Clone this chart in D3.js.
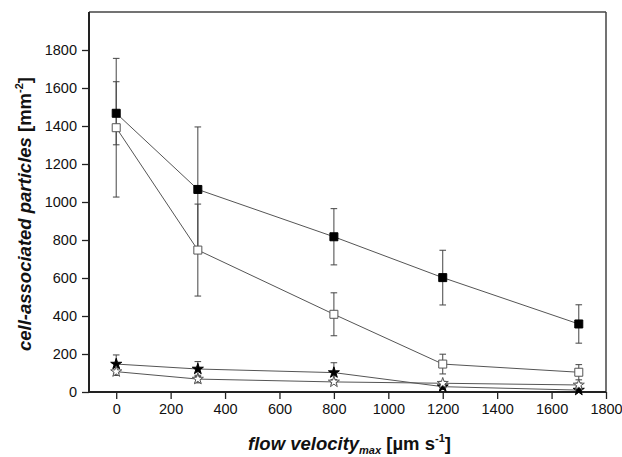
<!DOCTYPE html>
<html>
<head>
<meta charset="utf-8">
<script src="https://cdn.jsdelivr.net/npm/d3@7"></script>
<style>
  html, body { margin: 0; padding: 0; background: #fff; }
  svg { display: block; font-family: "Liberation Sans", Arial, sans-serif; }
</style>
</head>
<body>
<svg id="chart" width="622" height="457"></svg>
<script>
// ---- data ----
const velocity = [0, 300, 800, 1200, 1700];
const filledSquare = [1467, 1066, 817, 602, 358];
const filledSquareErr = [166, 329, 148, 144, 101];
const openSquare = [1391, 747, 409, 147, 104];
const openSquareErr = [365, 242, 113, 52, 40];
const filledStar = [147, 121, 102, 28, 10];
const filledStarErr = [48, 39, 52, 15, 10];
const openStar = [107, 68, 53, 46, 37];
const openStarErr = [20, 20, 12, 10, 10];
const xTicks = [0, 200, 400, 600, 800, 1000, 1200, 1400, 1600, 1800];
const yTicks = [0, 200, 400, 600, 800, 1000, 1200, 1400, 1600, 1800];

const seriesList = [
  { values: filledStar, err: filledStarErr, shape: d3.symbolStar, size: 38, fill: "#000", stroke: "#000" },
  { values: openStar, err: openStarErr, shape: d3.symbolStar, size: 38, fill: "#fff", stroke: "#555" },
  { values: openSquare, err: openSquareErr, shape: d3.symbolSquare, size: 64, fill: "#fff", stroke: "#555" },
  { values: filledSquare, err: filledSquareErr, shape: d3.symbolSquare, size: 64, fill: "#000", stroke: "#000" }
];

const svg = d3.select("#chart");
const L = 89, R = 606, T = 12, B = 392;
const x = d3.scaleLinear().domain([-100, 1800]).range([L, R]);
const y = d3.scaleLinear().domain([0, 2000]).range([B, T]);

// frame (top & right)
svg.append("line").attr("x1", L).attr("x2", R).attr("y1", T).attr("y2", T)
  .attr("stroke", "#444").attr("stroke-width", 1.5);
svg.append("line").attr("x1", R).attr("x2", R).attr("y1", T).attr("y2", B)
  .attr("stroke", "#444").attr("stroke-width", 1.5);

// axes
const fmt = d3.format("d");
const xAxis = svg.append("g").attr("transform", `translate(0,${B})`)
  .call(d3.axisBottom(x).tickValues(xTicks).tickFormat(fmt).tickSize(7).tickPadding(5).tickSizeOuter(0));
const yAxis = svg.append("g").attr("transform", `translate(${L},0)`)
  .call(d3.axisLeft(y).tickValues(yTicks).tickFormat(fmt).tickSize(7).tickPadding(5).tickSizeOuter(0));
[xAxis, yAxis].forEach(a => {
  a.select(".domain").attr("stroke", "#222").attr("stroke-width", 2);
  a.selectAll(".tick line").attr("stroke", "#222").attr("stroke-width", 1.3);
  a.selectAll(".tick text").attr("fill", "#111").style("font-size", "14.5px")
    .style("font-family", "'Liberation Sans', Arial, sans-serif");
});
xAxis.select(".domain").attr("d", `M${L},0H${R}`);
yAxis.select(".domain").attr("d", `M0,${B}V${T}`);

// lines
const line = d3.line().x((d, i) => x(velocity[i])).y(d => y(d));
seriesList.forEach(s => {
  svg.append("path").datum(s.values).attr("d", line)
    .attr("fill", "none").attr("stroke", "#555").attr("stroke-width", 1);
});

// error bars
const cap = 3.3;
seriesList.forEach(s => {
  const g = svg.append("g").attr("stroke", "#444").attr("stroke-width", 1);
  s.values.forEach((v, i) => {
    const cx = x(velocity[i]);
    const y1 = y(v + s.err[i]), y0 = y(Math.max(0, v - s.err[i]));
    g.append("line").attr("x1", cx).attr("x2", cx).attr("y1", y1).attr("y2", y0);
    g.append("line").attr("x1", cx - cap).attr("x2", cx + cap).attr("y1", y1).attr("y2", y1);
    if (v - s.err[i] > 0)
      g.append("line").attr("x1", cx - cap).attr("x2", cx + cap).attr("y1", y0).attr("y2", y0);
  });
});

// markers
seriesList.forEach(s => {
  const sym = d3.symbol().type(s.shape).size(s.size);
  svg.append("g").selectAll("path").data(s.values).join("path")
    .attr("d", sym)
    .attr("transform", (d, i) => `translate(${x(velocity[i])},${y(d)})`)
    .attr("fill", s.fill).attr("stroke", s.stroke).attr("stroke-width", 1);
});

// axis titles
const xt = svg.append("text").attr("x", (L + R) / 2 + 2).attr("y", 450)
  .attr("text-anchor", "middle").attr("font-weight", "bold").attr("font-size", 18.5).attr("fill", "#111");
xt.append("tspan").attr("font-style", "italic").text("flow velocity");
xt.append("tspan").attr("font-style", "italic").attr("font-size", 11).attr("dy", 4).text("max");
xt.append("tspan").attr("dy", -4).text(" [µm s");
xt.append("tspan").attr("font-size", 11).attr("dy", -8).text("-1");
xt.append("tspan").attr("dy", 8).text("]");

const yt = svg.append("text").attr("transform", "translate(31,214) rotate(-90)")
  .attr("text-anchor", "middle").attr("font-weight", "bold").attr("font-size", 18.5).attr("fill", "#111");
yt.append("tspan").attr("font-style", "italic").text("cell-associated particles");
yt.append("tspan").text(" [mm");
yt.append("tspan").attr("font-size", 11).attr("dy", -8).text("-2");
yt.append("tspan").attr("dy", 8).text("]");
</script>
</body>
</html>
